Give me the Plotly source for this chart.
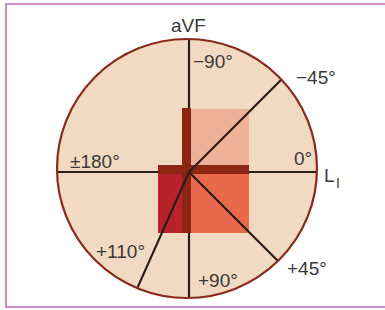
import math
import plotly.graph_objects as go

# ---- data ----
axis_angles = [0, 180, -90, 90]           # lead axes (L_I horizontal, aVF vertical)
ray_angles = [-45, 45, 114]                # drawn diagonal reference axes (as seen in picture)
angle_labels = ["−90°", "−45°", "±180°", "0°", "+110°", "+90°", "+45°"]
lead_labels = ["aVF", "L"]
lead_subscripts = ["I"]

# quadrant areas (x0, x1, y0, y1) in diagram units, origin at axes crossing
area_names = ["upper_right", "lower_right", "lower_left"]
area_x0 = [2, 2, -31]
area_x1 = [60, 60, -7]
area_y0 = [6, -61, -61]
area_y1 = [63, -2, -2]
area_colors = ["#eeb097", "#e9694c", "#b8232b"]

# thick lead bars
bar_x0 = [-7, -31]
bar_x1 = [2, 60]
bar_y0 = [-61, -2]
bar_y1 = [64, 7]

# ---- geometry / style ----
W, H = 385, 310
CXP, CYP = 189, 172          # pixel of origin
circ_cx, circ_cy = -2, 3.5
circ_rx, circ_ry = 130, 129.5
LINE_COL = "#2b1d18"
RIM_COL = "#8a2a1a"
FILL_COL = "#f2d9c1"
BAR_COL = "#8c2511"
TEXT_COL = "#3a3a3a"
FONT = "Liberation Sans, Arial, sans-serif"


def ray_end(deg):
    # screen angle: positive degrees go downward (clockwise), as in the hexaxial diagram
    dx = math.cos(math.radians(deg))
    dy = -math.sin(math.radians(deg))
    a = (dx / circ_rx) ** 2 + (dy / circ_ry) ** 2
    b = -2 * (dx * circ_cx / circ_rx ** 2 + dy * circ_cy / circ_ry ** 2)
    c = (circ_cx / circ_rx) ** 2 + (circ_cy / circ_ry) ** 2 - 1
    t = (-b + math.sqrt(b * b - 4 * a * c)) / (2 * a)
    return t * dx, t * dy


fig = go.Figure()
shapes = []

# frame
shapes.append(dict(type="rect", xref="x", yref="y", x0=6 - CXP, x1=420 - CXP,
                   y0=CYP - 4, y1=CYP - 307, line=dict(color="#cd8fcb", width=2),
                   fillcolor="rgba(0,0,0,0)", layer="below"))
# circle fill
shapes.append(dict(type="circle", xref="x", yref="y",
                   x0=circ_cx - circ_rx, x1=circ_cx + circ_rx,
                   y0=circ_cy - circ_ry, y1=circ_cy + circ_ry,
                   fillcolor=FILL_COL, line=dict(width=0), layer="below"))
# quadrant areas
for x0, x1, y0, y1, col in zip(area_x0, area_x1, area_y0, area_y1, area_colors):
    shapes.append(dict(type="rect", xref="x", yref="y", x0=x0, x1=x1, y0=y0, y1=y1,
                       fillcolor=col, line=dict(width=0), layer="below"))
# lead axes
for ang in axis_angles:
    ex, ey = ray_end(ang)
    shapes.append(dict(type="line", xref="x", yref="y", x0=0, y0=0, x1=ex, y1=ey,
                       line=dict(color=LINE_COL, width=2.2), layer="below"))
# lead bars
for x0, x1, y0, y1 in zip(bar_x0, bar_x1, bar_y0, bar_y1):
    shapes.append(dict(type="rect", xref="x", yref="y", x0=x0, x1=x1, y0=y0, y1=y1,
                       fillcolor=BAR_COL, line=dict(width=0), layer="below"))
# diagonal rays
for ang in ray_angles:
    ex, ey = ray_end(ang)
    shapes.append(dict(type="line", xref="x", yref="y", x0=0, y0=0, x1=ex, y1=ey,
                       line=dict(color=LINE_COL, width=2.2), layer="below"))
# rim
shapes.append(dict(type="circle", xref="x", yref="y",
                   x0=circ_cx - circ_rx, x1=circ_cx + circ_rx,
                   y0=circ_cy - circ_ry, y1=circ_cy + circ_ry,
                   fillcolor="rgba(0,0,0,0)", line=dict(color=RIM_COL, width=2.2), layer="below"))

# label pixel centres
label_pos = [(213, 61), (316, 77), (95, 161), (303, 158), (120, 251), (218, 280), (307, 268)]
lead_pos = [(188, 25), (329, 175)]
sub_pos = [(338, 183)]

annotations = []
for txt, (px, py) in zip(angle_labels + lead_labels, label_pos + lead_pos):
    annotations.append(dict(x=px - CXP, y=CYP - py, xref="x", yref="y", text=txt,
                            showarrow=False, xanchor="center", yanchor="middle",
                            font=dict(family=FONT, size=19, color=TEXT_COL)))
for txt, (px, py) in zip(lead_subscripts, sub_pos):
    annotations.append(dict(x=px - CXP, y=CYP - py, xref="x", yref="y", text=txt,
                            showarrow=False, xanchor="center", yanchor="middle",
                            font=dict(family=FONT, size=14, color=TEXT_COL)))

# invisible trace so axes exist
fig.add_trace(go.Scatter(x=[0], y=[0], mode="markers", marker=dict(opacity=0),
                         hoverinfo="skip", showlegend=False))

fig.update_layout(
    width=W, height=H, margin=dict(l=0, r=0, t=0, b=0),
    paper_bgcolor="white", plot_bgcolor="white",
    shapes=shapes, annotations=annotations, showlegend=False,
    xaxis=dict(range=[-CXP, W - CXP], visible=False, fixedrange=True),
    yaxis=dict(range=[CYP - H, CYP], visible=False, fixedrange=True),
)

fig.write_html("out.html", config={"displayModeBar": False},
               post_script="document.body.style.margin='0';document.body.style.overflow='hidden';")
